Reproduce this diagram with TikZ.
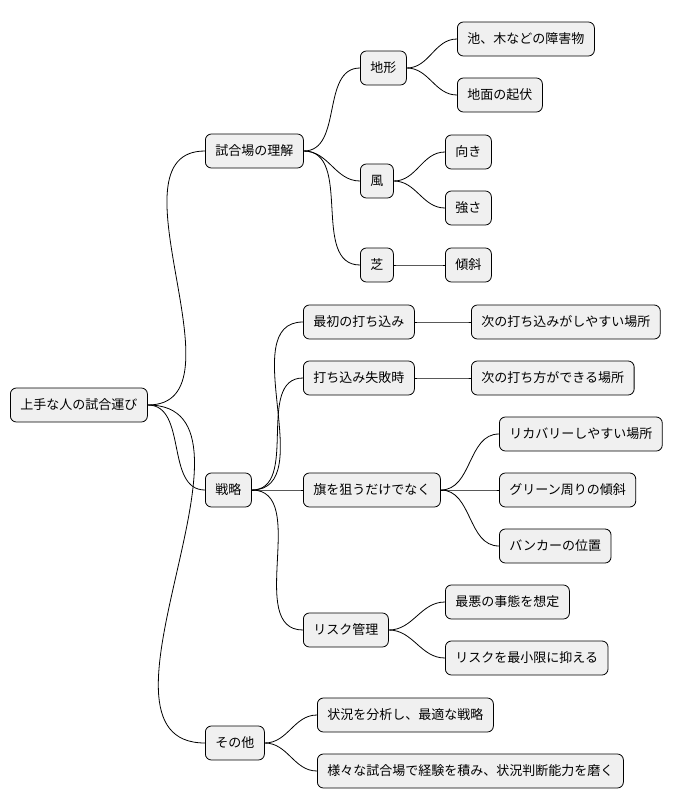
\documentclass[tikz,border=0pt]{standalone}
\usepackage{fontspec}
\setmainfont{Noto Sans CJK JP}
\begin{document}
\begin{tikzpicture}[x=1pt,y=-1pt,
  box/.style={draw=black,line width=0.8pt,fill=black!6,rounded corners=6pt,minimum height=34pt,inner xsep=10pt,anchor=west,font=\fontsize{13}{15}\selectfont},
  conn/.style={line width=0.8pt}]
\useasboundingbox (0,0) rectangle (684,809);
\node[box] (r) at (10,405) {上手な人の試合運び};
\node[box] (a) at (205,151) {試合場の理解};
\node[box] (a1) at (360,68) {地形};
\node[box] (a11) at (457,39) {池、木などの障害物};
\node[box] (a12) at (457,95) {地面の起伏};
\node[box] (a2) at (360,181) {風};
\node[box] (a21) at (445,152) {向き};
\node[box] (a22) at (445,208) {強さ};
\node[box] (a3) at (360,265) {芝};
\node[box] (a31) at (445,265) {傾斜};
\node[box] (b) at (205,490) {戦略};
\node[box] (b1) at (303,322) {最初の打ち込み};
\node[box] (b11) at (471,322) {次の打ち込みがしやすい場所};
\node[box] (b2) at (303,378) {打ち込み失敗時};
\node[box] (b21) at (471,378) {次の打ち方ができる場所};
\node[box] (b3) at (303,490) {旗を狙うだけでなく};
\node[box] (b31) at (499,434) {リカバリーしやすい場所};
\node[box] (b32) at (499,490) {グリーン周りの傾斜};
\node[box] (b33) at (499,546) {バンカーの位置};
\node[box] (b4) at (303,630) {リスク管理};
\node[box] (b41) at (445,602) {最悪の事態を想定};
\node[box] (b42) at (445,658) {リスクを最小限に抑える};
\node[box] (c) at (205,743) {その他};
\node[box] (c1) at (317,715) {状況を分析し、最適な戦略};
\node[box] (c2) at (317,771) {様々な試合場で経験を積み、状況判断能力を磨く};
\foreach \p/\c in {r/a,r/b,r/c,a/a1,a/a2,a/a3,a1/a11,a1/a12,a2/a21,a2/a22,a3/a31,
  b/b1,b/b2,b/b3,b/b4,b1/b11,b2/b21,b3/b31,b3/b32,b3/b33,b4/b41,b4/b42,c/c1,c/c2}
  \draw[conn] (\p.east) to[out=0,in=180] (\c.west);
\end{tikzpicture}
\end{document}
